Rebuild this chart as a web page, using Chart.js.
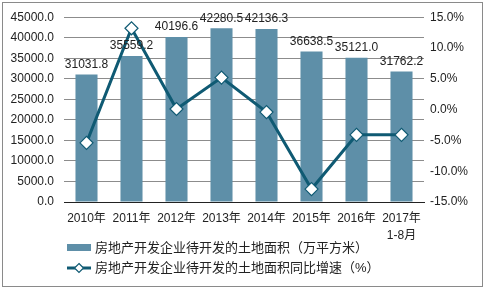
<!DOCTYPE html>
<html lang="zh">
<head>
<meta charset="UTF-8">
<title>房地产开发企业待开发的土地面积</title>
<script src="https://cdn.jsdelivr.net/npm/chart.js"></script>
<style>
  body { margin: 0; background: #fff; }
  #wrap { width: 487px; height: 290px; }
</style>
</head>
<body>
<div id="wrap"><canvas id="c" width="487" height="290"></canvas></div>
<script>
const years = [["2010年"], ["2011年"], ["2012年"], ["2013年"], ["2014年"], ["2015年"], ["2016年"], ["2017年", "1-8月"]];
const landArea = [31031.8, 35559.2, 40196.6, 42280.5, 42136.3, 36638.5, 35121.0, 31762.2];
const growth = [-5.4, 13.2, 0.1, 5.2, -0.4, -12.9, -4.1, -4.1];
const areaName = "房地产开发企业待开发的土地面积（万平方米）";
const growthName = "房地产开发企业待开发的土地面积同比增速（%）";

const FONT = "'Liberation Sans', Arial, 'Noto Sans CJK SC', sans-serif";
const barColor = "#5e8fa8";
const lineColor = "#0f5a73";

const extras = {
  id: "extras",
  afterDatasetsDraw(chart) {
    const ctx = chart.ctx;
    const meta = chart.getDatasetMeta(1);
    ctx.save();
    ctx.font = "12px " + FONT;
    ctx.fillStyle = "#222";
    ctx.textAlign = "center";
    ctx.textBaseline = "bottom";
    meta.data.forEach((bar, i) => {
      ctx.fillText(landArea[i].toFixed(1), bar.x, bar.y - 4);
    });
    ctx.restore();
  },
  afterDraw(chart) {
    const ctx = chart.ctx;
    ctx.save();
    // outer frame
    ctx.strokeStyle = "#8a8a8a";
    ctx.lineWidth = 1;
    ctx.strokeRect(2.5, 2.5, 480, 284);
    // legend
    ctx.font = "13px " + FONT;
    ctx.textBaseline = "middle";
    ctx.fillStyle = barColor;
    ctx.fillRect(67, 244, 24, 7);
    ctx.fillStyle = "#222";
    ctx.fillText(areaName, 95, 248);
    ctx.strokeStyle = lineColor;
    ctx.lineWidth = 3;
    ctx.beginPath();
    ctx.moveTo(67, 268);
    ctx.lineTo(91, 268);
    ctx.stroke();
    ctx.fillStyle = "#fff";
    ctx.lineWidth = 1.2;
    ctx.beginPath();
    ctx.moveTo(79, 263.5);
    ctx.lineTo(83.5, 268);
    ctx.lineTo(79, 272.5);
    ctx.lineTo(74.5, 268);
    ctx.closePath();
    ctx.fill();
    ctx.stroke();
    ctx.fillStyle = "#222";
    ctx.fillText(growthName, 95, 268);
    ctx.restore();
  }
};

new Chart(document.getElementById("c"), {
  data: {
    labels: years,
    datasets: [
      {
        type: "line",
        label: growthName,
        data: growth,
        yAxisID: "y2",
        borderColor: lineColor,
        borderWidth: 3,
        pointStyle: "rectRot",
        pointRadius: 6.5,
        pointBackgroundColor: "#fff",
        pointBorderColor: lineColor,
        pointBorderWidth: 1.2,
        tension: 0,
        order: 0
      },
      {
        type: "bar",
        label: areaName,
        data: landArea,
        yAxisID: "y",
        backgroundColor: barColor,
        categoryPercentage: 1,
        barPercentage: 0.49,
        order: 1
      }
    ]
  },
  options: {
    responsive: false,
    animation: false,
    layout: { padding: { top: 17, left: 0, right: 0, bottom: 0 } },
    plugins: { legend: { display: false }, tooltip: { enabled: false } },
    scales: {
      x: {
        grid: { display: false, drawTicks: false },
        border: { color: "#222", width: 1 },
        ticks: { color: "#222", font: { size: 12, family: FONT, lineHeight: 1.4 }, padding: 8, maxRotation: 0, autoSkip: false },
        afterFit: s => { s.height = 88; }
      },
      y: {
        position: "left",
        min: 0,
        max: 45000,
        grid: { color: "#8c8c8c", drawTicks: false },
        border: { display: false },
        ticks: { stepSize: 5000, color: "#222", font: { size: 12, family: FONT }, padding: 10,
                 callback: v => v.toFixed(1) },
        afterFit: s => { s.width = 64; }
      },
      y2: {
        position: "right",
        min: -15,
        max: 15,
        grid: { display: false, drawTicks: false },
        border: { display: false },
        ticks: { stepSize: 5, color: "#222", font: { size: 12, family: FONT }, padding: 6,
                 callback: v => v.toFixed(1) + "%" },
        afterFit: s => { s.width = 63; }
      }
    }
  },
  plugins: [extras]
});
</script>
</body>
</html>
